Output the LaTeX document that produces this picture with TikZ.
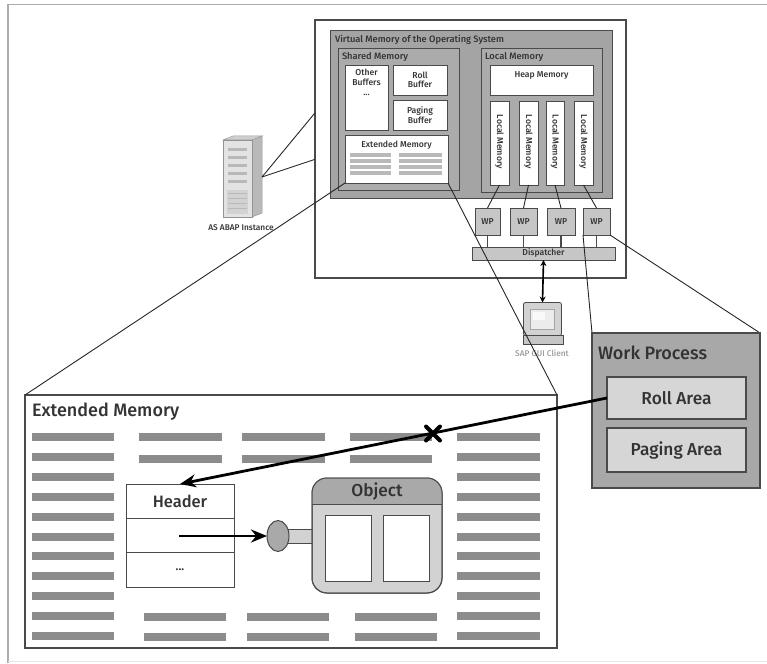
\documentclass[tikz,border=0pt]{standalone}
\usepackage{fontspec}
\setmainfont{Fira Sans}[UprightFont={* Medium},BoldFont={* SemiBold}]
\usetikzlibrary{arrows.meta,calc,shapes.geometric}
\definecolor{linegray}{HTML}{4A4A4A}
\definecolor{vmgray}{HTML}{A4A4A4}
\definecolor{shgray}{HTML}{ABABAB}
\definecolor{wpgray}{HTML}{C6C6C6}
\definecolor{bargray}{HTML}{8C8C8C}
\definecolor{wpbox}{HTML}{A8A8A8}
\definecolor{areagray}{HTML}{D6D6D6}
\definecolor{objlight}{HTML}{D2D2D2}
\definecolor{objdark}{HTML}{A9A9A9}
\definecolor{txt}{HTML}{333333}
% box given by its corners: [style] name x1 y1 x2 y2 text
\newcommand\areabox[7][]{\node[#1,anchor=north west,minimum width={#5-#3},minimum height={#6-#4}] (#2) at (#3,#4) {#7};}
\begin{document}
\begin{tikzpicture}[x=1pt,y=-1pt,
  every node/.style={inner sep=0pt,outer sep=0pt,text=txt},
  frame/.style={draw=linegray,line width=1.1pt,align=center},
  tiny/.style={font=\fontsize{8.6}{9.6}\selectfont,align=center},
  small/.style={font=\fontsize{9.3}{10}\selectfont},
  big/.style={font=\fontsize{18}{20}\selectfont},
  mid/.style={font=\fontsize{17.3}{19}\selectfont},
  conn/.style={draw=black!85,line width=0.9pt},
  thick arrow/.style={line width=2.8pt,-{Stealth[length=16pt,width=13pt]}}]
\useasboundingbox (0,0) rectangle (767,663);
% outer frame
\draw[gray!65,line width=1.3pt] (8,663) -- (8,4.5) -- (767,4.5);
\draw[gray!20,line width=1pt] (8,661.5) -- (767,661.5);

% ---------- server tower ----------
\fill[gray!55,draw=gray!80,line width=0.5pt] (252,140) -- (262,136) -- (262,213) -- (252,217) -- cycle;
\fill[gray!38,draw=gray!80,line width=0.5pt] (223,140) -- (233,136) -- (262,136) -- (252,140) -- cycle;
\fill[gray!22,draw=gray!85,line width=0.6pt] (223,140) rectangle (252,217);
\foreach \yy in {148,156,164,172,180} \fill[gray!55] (228,\yy) rectangle (247,\yy+3);
\fill[gray!35] (227,190) rectangle (248,214);
\foreach \yy in {193,198,203,208} \draw[gray!55,line width=0.4pt] (228,\yy) -- (247,\yy);
\coordinate (srv) at (262,177);
\node[tiny,font=\fontsize{8.3}{9}\selectfont] (srvlbl) at (241,228) {AS ABAP Instance};

% ---------- application server instance ----------
\areabox[frame,fill=white]{inst}{315}{20}{626}{278}{}
\draw[conn] (srv) -- ($(inst.north west)!0.36!(inst.south west)$);
\draw[conn] (srv) -- ($(inst.north west)!0.54!(inst.south west)$);

\areabox[frame,fill=vmgray,line width=0.9pt]{vm}{330}{30}{612}{198}{}
\node[small,anchor=west] (vmtitle) at (335,40) {Virtual Memory of the Operating System};

% shared memory
\areabox[frame,fill=shgray,line width=0.9pt]{shm}{338}{48}{459}{190}{}
\node[small,anchor=west] (shmtitle) at (342,57) {Shared Memory};
\areabox[frame,fill=white,line width=0.8pt]{other}{345}{65}{388}{130}{}
\node[tiny,anchor=north] (othertxt) at (366.5,69) {Other\\Buffers\\[1pt]...};
\areabox[frame,fill=white,line width=0.8pt,tiny]{rollbuf}{393}{65}{447}{95}{Roll\\Buffer}
\areabox[frame,fill=white,line width=0.8pt,tiny]{pagebuf}{393}{100}{447}{130}{Paging\\Buffer}
\areabox[frame,fill=white,line width=0.8pt]{smext}{345}{135}{448}{183}{}
\node[tiny] (smexttxt) at (396.5,145) {Extended Memory};
\foreach \yy in {155,161,167,173}{
  \fill[gray!55] (350,\yy-1.7) rectangle (391,\yy+1.7);
  \fill[gray!55] (399,\yy-1.7) rectangle (442,\yy+1.7);}

% local memory
\areabox[frame,fill=shgray,line width=0.9pt]{lm}{481}{48}{602}{192}{}
\node[small,anchor=west] (lmtitle) at (485,57) {Local Memory};
\areabox[frame,fill=white,line width=0.8pt]{heap}{490}{65}{593}{95}{}
\node[tiny] (heaptxt) at (541.5,75) {Heap Memory};
\foreach \i/\xa/\xb in {1/490/509,2/519/538,3/546/564,4/574/593}{
  \areabox[frame,fill=white,line width=0.8pt]{col\i}{\xa}{101}{\xb}{185}{}
  \node[tiny,rotate=-90] (coltxt\i) at ($(col\i.center)+(0,-1)$) {Local Memory};}

% work processes and dispatcher
\foreach \i/\xa/\xb in {1/475/500,2/510/537,3/547/575,4/583/610}{
  \areabox[frame,fill=wpgray,line width=0.8pt,tiny]{wp\i}{\xa}{208}{\xb}{235}{WP}}
\areabox[frame,fill=wpgray,line width=0.8pt,tiny]{disp}{472}{247}{615}{260}{Dispatcher}
\foreach \i in {1,...,4}{
  \draw[conn,draw=linegray,line width=1.6pt] (wp\i.south) -- (wp\i.south |- disp.north);
  \draw[conn] (col\i.south) -- (wp\i.north);}

% SAP GUI client
\fill[gray!45,draw=linegray,line width=0.7pt] (523,335) -- (563,335) -- (563,344) -- (523,344) -- cycle;
\node[frame,fill=gray!35,line width=0.8pt,rounded corners=2pt,minimum width=38,minimum height=33] (gui) at (542.5,319) {};
\fill[gray!15,draw=gray!70,line width=0.5pt] (530,309) rectangle (554,329);
\fill[gray!5] (533,312) rectangle (545,320);
\node[tiny,font=\fontsize{8.3}{9}\selectfont,text=gray!75] (guilbl) at (542,353) {SAP GUI Client};
\draw[line width=1.6pt,{Stealth[length=6pt,width=6pt]}-{Stealth[length=6pt,width=6pt]}] (disp.south) -- (gui.north);

% ---------- enlarged extended memory ----------
\areabox[frame,fill=white]{ext}{25}{395}{557}{648}{}
\draw[conn] (smext.south west) -- (ext.north west);
\draw[conn] (smext.south east) -- (ext.north east);
\node[big,anchor=west] (exttitle) at (32,412) {Extended Memory};
\foreach \k in {0,...,10}{
  \fill[bargray] (32,437+19.9*\k-4) rectangle (114,437+19.9*\k+4);
  \fill[bargray] (457,437+19.9*\k-4) rectangle (540,437+19.9*\k+4);}
\foreach \yy in {437,459}{
  \fill[bargray] (139,\yy-4) rectangle (222,\yy+4);
  \fill[bargray] (242,\yy-4) rectangle (325,\yy+4);
  \fill[bargray] (350,\yy-4) rectangle (432,\yy+4);}
\foreach \yy in {617,637}{
  \fill[bargray] (144,\yy-4) rectangle (226,\yy+4);
  \fill[bargray] (247,\yy-4) rectangle (329,\yy+4);
  \fill[bargray] (355,\yy-4) rectangle (437,\yy+4);}

% header block
\areabox[frame,fill=white,line width=1pt]{hdr}{126}{484}{234}{587}{}
\draw[draw=linegray,line width=1pt] (126,518) -- (234,518) (126,552) -- (234,552);
\node[font=\fontsize{16.5}{18}\selectfont] (hdrtxt) at (180,501) {Header};
\node[font=\fontsize{12}{14}\selectfont] (hdrdots) at (180,570) {...};
\coordinate (ptr) at (179,536);

% object with its handle
\areabox[frame,fill=objlight,line width=1pt]{stub}{286}{529}{314}{543}{}
\node[ellipse,draw=linegray,line width=1pt,fill=objdark,minimum width=22,minimum height=31] (knob) at (278,536) {};
\areabox[frame,fill=objlight,line width=1pt,rounded corners=15pt]{obj}{312}{478}{442}{593}{}
\begin{scope}
  \clip[rounded corners=15pt] (312,478) rectangle (442,593);
  \fill[objdark] (312,478) rectangle (442,504);
\end{scope}
\draw[draw=linegray,line width=1pt,rounded corners=15pt] (312,478) rectangle (442,593);
\draw[draw=linegray,line width=1pt] (312,504) -- (442,504);
\node[mid] (objtxt) at (377,491) {Object};
\areabox[frame,fill=white,line width=1pt]{slot1}{325}{515}{371}{581}{}
\areabox[frame,fill=white,line width=1pt]{slot2}{383}{515}{429}{581}{}
\draw[thick arrow] (ptr) -- (knob.west);

% ---------- work process ----------
\draw[conn] (wp4.south west) -- (592,333);
\draw[conn] (wp4.south east) -- (760,333);
\areabox[frame,fill=wpbox]{wproc}{592}{333}{760}{488}{}
\node[big,anchor=west] (wproctitle) at (598,353) {Work Process};
\areabox[frame,fill=areagray,mid]{roll}{607}{377}{746}{419}{Roll Area}
\areabox[frame,fill=areagray,mid]{paging}{607}{428}{746}{472}{Paging Area}

% broken reference from the roll area to the header
\draw[thick arrow] (roll.west) -- (hdr.north);
\coordinate (cut) at (433,433.5);
\draw[line width=4pt,line cap=round] ($(cut)+(-7,-7)$) -- ($(cut)+(7,7)$) ($(cut)+(-7,7)$) -- ($(cut)+(7,-7)$);
\end{tikzpicture}
\end{document}
